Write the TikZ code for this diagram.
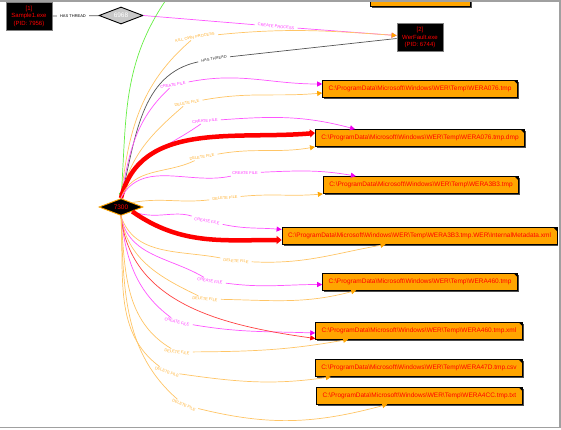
\documentclass[tikz,border=0pt]{standalone}
\usepackage{fontspec}
\setmainfont{Liberation Sans}
\usetikzlibrary{arrows.meta,positioning,shapes.geometric,shadows}

\definecolor{fileor}{HTML}{FFA500}
\definecolor{crcol}{HTML}{FF55FF}
\definecolor{crtip}{HTML}{EE00EE}
\definecolor{crtxt}{HTML}{FF33FF}
\definecolor{dlcol}{HTML}{FFC566}
\definecolor{dltip}{HTML}{FFA500}
\definecolor{dltxt}{HTML}{FFB030}
\definecolor{grncol}{HTML}{66EE44}
\definecolor{thrcol}{HTML}{555555}
\definecolor{frmcol}{HTML}{A0A0A0}
\definecolor{thrgray}{HTML}{C8C8C8}

\newcommand{\nfont}{\fontsize{6.5}{7.5}\selectfont}
\newcommand{\pfont}{\fontsize{6}{7.5}\selectfont}
\newcommand{\lfont}{\fontsize{4}{4.5}\selectfont}
\newcommand{\werdir}{C:\textbackslash ProgramData\textbackslash Microsoft\textbackslash Windows\textbackslash WER\textbackslash Temp\textbackslash}

\begin{document}
\begin{tikzpicture}[x=1pt, y=1pt,
  proc/.style={draw=gray, line width=0.8pt, fill=black, text=red, font=\pfont, align=center, minimum width=46pt, minimum height=28pt, inner sep=0pt},
  thrd/.style={diamond, line width=0.9pt, minimum width=44pt, minimum height=17pt, inner sep=0pt, font=\nfont, shape aspect=3},
  file/.style={draw=black, line width=0.8pt, fill=fileor, text=red, font=\nfont, minimum height=17pt, inner xsep=6pt,
    drop shadow={shadow xshift=1.5pt, shadow yshift=-1.5pt, fill=black!70, opacity=1},
    path picture={\fill[black] ([xshift=-4pt]path picture bounding box.north east) -- (path picture bounding box.north east) -- ([yshift=-4pt]path picture bounding box.north east) -- cycle;}},
  lbl/.style={font=\lfont, inner xsep=3pt, inner ysep=1pt},
  crl/.style={lbl, text=crtxt},
  dll/.style={lbl, text=dltxt},
  crf/.style={draw=crcol, line width=0.7pt, -{Triangle[length=5pt,width=5pt,color=crtip]}},
  dlf/.style={draw=dlcol, line width=0.7pt, -{Triangle[length=5pt,width=5pt,color=dltip]}},
  redf/.style={draw=red, line width=4.5pt, -{Triangle[length=5pt,width=8pt]}},
  redt/.style={draw=red!75, line width=0.7pt, -{Triangle[length=5pt,width=5pt,color=red]}},
  thr/.style={draw=thrcol, line width=0.7pt}]
 \useasboundingbox (0,0) rectangle (561,-429);
 \begin{scope}
 \clip (0,-0.8) rectangle (559.8,-427.5);

 % Processes and threads
 \node[proc] (s1) at (29,-16) {[1]\\Sample1.exe\\(PID: 7956)};
 \node[thrd, draw=black, fill=thrgray, text=white] (t6968) at (121,-15.5) {6968};
 \node[proc] (wf) at (420,-37.5) {[2]\\WerFault.exe\\(PID: 6744)};
 \node[thrd, draw=fileor, fill=black, text=red] (t7300) at (121,-207) {7300};

 % Files
 \node[file, minimum width=100pt] (wtop) at (420,2) {};
 \node[file] (w076) at (420,-88.5) {\werdir WERA076.tmp};
 \node[file] (w076d) at (420,-138) {\werdir WERA076.tmp.dmp};
 \node[file] (w3b3) at (421,-185) {\werdir WERA3B3.tmp};
 \node[file] (w3b3x) at (419.5,-235.5) {\werdir WERA3B3.tmp.WER\textbackslash InternalMetadata.xml};
 \node[file] (w460) at (420,-281.5) {\werdir WERA460.tmp};
 \node[file] (w460x) at (419,-330.5) {\werdir WERA460.tmp.xml};
 \node[file] (w47d) at (419,-368) {\werdir WERA47D.tmp.csv};
 \node[file] (w4cc) at (419.5,-395.5) {\werdir WERA4CC.tmp.txt};

 % Edge labels
 \node[lbl, text=black] (ht1) at (73,-16) {HAS THREAD};
 \node[crl, rotate=-6] (lcp) at (276,-26.5) {CREATE PROCESS};
 \node[dll, rotate=11] (lk) at (195,-37) {KILL OWN PROCESS};
 \node[lbl, text=black!80, rotate=10] (ht2) at (214,-58.5) {HAS THREAD};
 \node[crl, rotate=9] (c076) at (173,-85) {CREATE FILE};
 \node[dll, rotate=10] (d076) at (187,-103) {DELETE FILE};
 \node[crl, rotate=5] (c076d) at (205,-121) {CREATE FILE};
 \node[dll, rotate=8] (d076d) at (202,-157) {DELETE FILE};
 \node[crl, rotate=2] (c3b3) at (245,-173) {CREATE FILE};
 \node[dll, rotate=5] (d3b3) at (225,-198) {DELETE FILE};
 \node[crl, rotate=-10] (c3b3x) at (207,-221) {CREATE FILE};
 \node[dll, rotate=-4] (d3b3x) at (236,-261) {DELETE FILE};
 \node[crl, rotate=-9] (c460) at (210,-281) {CREATE FILE};
 \node[dll, rotate=-5] (d460) at (205,-299) {DELETE FILE};
 \node[crl, rotate=-15] (c460x) at (177,-322) {CREATE FILE};
 \node[dll, rotate=-8] (d460x) at (177,-352) {DELETE FILE};
 \node[dll, rotate=-20] (d47d) at (167,-372) {DELETE FILE};
 \node[dll, rotate=-24] (d4cc) at (184,-405) {DELETE FILE};

 % Process edges
 \draw[thr] (s1) -- (ht1) -- (t6968);
 \draw[crf] (t6968.east) -- (lcp) -- ([yshift=2pt]wf.west);
 \draw[dlf] (t7300.north) to[out=84,in=220] (lk) to[out=3,in=176] ([yshift=2pt]wf.west);
 \draw[thr] ([yshift=-1pt]wf.west) -- (ht2) to[out=190,in=76] (t7300.north);
 \coordinate (gsrc) at (168,3);
 \draw[draw=grncol, line width=0.7pt, -{Triangle[length=5pt,width=5pt]}] (gsrc) to[out=235,in=86] (t7300.north);

 % File edges above
 \draw[crf] (t7300.north) to[out=80,in=222] (c076) to[out=9,in=180] ([yshift=4.5pt]w076.west);
 \draw[dlf] (t7300.north) to[out=78,in=220] (d076) to[out=8,in=185] ([yshift=-4.5pt]w076.west);
 \draw[crf] (t7300.north) to[out=76,in=215] (c076d) to[out=3,in=165] ([xshift=40pt]w076d.north west);
 \draw[redf] (t7300.north) to[out=76,in=185] ([yshift=5pt]w076d.west);
 \draw[dlf] (t7300.north) to[out=70,in=205] (d076d) to[out=8,in=190] (w076d.south west);
 \draw[crf] (t7300.north) to[out=62,in=192] (c3b3) to[out=2,in=170] ([xshift=33pt]w3b3.north west);
 \draw[dlf] (t7300.north east) to[out=10,in=185] (d3b3) to[out=4,in=185] (w3b3.south west);

 % File edges below
 \draw[crf] (t7300.south east) to[out=-20,in=165] (c3b3x) to[out=-8,in=175] ([yshift=6pt]w3b3x.west);
 \draw[redf] (t7300.south east) to[out=-35,in=180] ([yshift=-4.5pt]w3b3x.west);
 \draw[dlf] (t7300.south) to[out=-72,in=170] (d3b3x) to[out=-2,in=190] ([xshift=104pt]w3b3x.south west);
 \draw[crf] (t7300.south) to[out=-80,in=150] (c460) to[out=-5,in=180] ([yshift=-3pt]w460.west);
 \draw[dlf] (t7300.south) to[out=-82,in=155] (d460) to[out=0,in=195] ([xshift=34pt]w460.south west);
 \draw[crf] (t7300.south) to[out=-84,in=145] (c460x) to[out=-6,in=178] ([yshift=-2.5pt]w460x.west);
 \draw[redt] (t7300.south) to[out=-84,in=172] ([yshift=-8pt]w460x.west);
 \draw[dlf] (t7300.south) to[out=-86,in=150] (d460x) to[out=2,in=190] ([xshift=33pt]w460x.south west);
 \draw[dlf] (t7300.south) to[out=-87,in=145] (d47d) to[out=-4,in=188] ([xshift=16pt]w47d.south west);
 \draw[dlf] (t7300.south) to[out=-88,in=140] (d4cc) to[out=-10,in=195] ([xshift=71pt]w4cc.south west);
 \end{scope}

 % Frame
 \draw[frmcol, line width=1.5pt] (0,-0.8) -- (559.8,-0.8) -- (559.8,-427.5) -- (0,-427.5);
\end{tikzpicture}
\end{document}
